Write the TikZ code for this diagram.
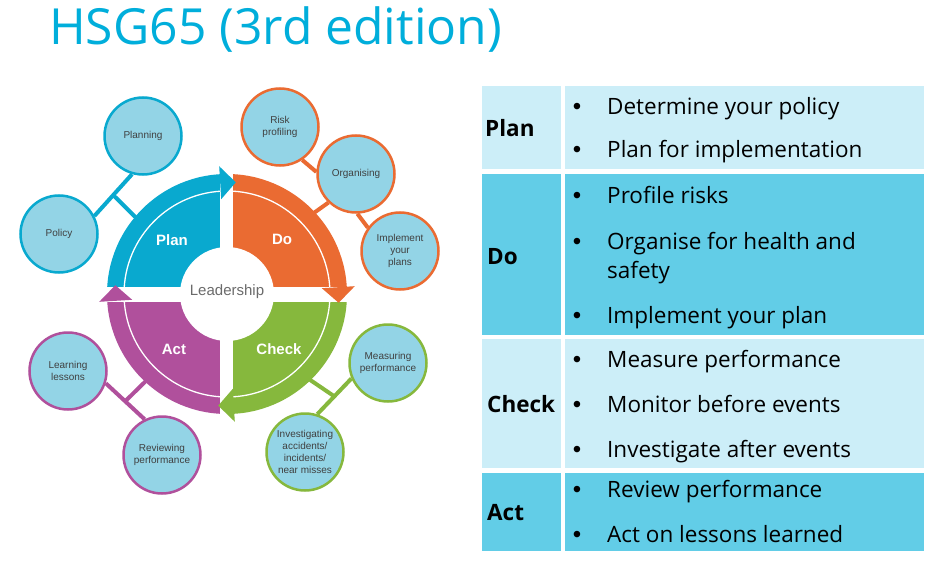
\documentclass[tikz,border=0pt]{standalone}
\usepackage{fontspec}
\setmainfont{Open Sans}
\newfontfamily\lib{Liberation Sans}
\usetikzlibrary{calc}
\definecolor{plancol}{HTML}{09A9CF}
\definecolor{docol}{HTML}{EA6B32}
\definecolor{checkcol}{HTML}{86B83D}
\definecolor{actcol}{HTML}{B0509C}
\definecolor{satfill}{HTML}{93D4E6}
\definecolor{labgrey}{HTML}{404040}
\definecolor{leadgrey}{HTML}{6B6B6B}
\definecolor{tablight}{HTML}{CCEEF8}
\definecolor{tabdark}{HTML}{62CDE7}
\definecolor{titlecol}{HTML}{00AEDB}
\begin{document}
\begin{tikzpicture}[x=1pt,y=1pt,
  sat/.style={circle, draw=#1, line width=2.5, fill=satfill, minimum size=77, inner sep=0,
    align=center, text=labgrey, font=\lib\fontsize{10}{12}\selectfont},
  conn/.style={line width=4, draw=#1},
  wheellab/.style={text=white, inner sep=0, font=\lib\bfseries\fontsize{15}{18}\selectfont},
  tabtext/.style={anchor=base west, inner sep=0, font=\fontsize{22.5}{27}\selectfont},
  tabbul/.style={anchor=base, inner sep=0, font=\lib\fontsize{24}{27}\selectfont},
  tabhead/.style={anchor=base west, inner sep=0, font=\bfseries\fontsize{22.5}{27}\selectfont}]
\useasboundingbox (0,0) rectangle (941,-585);
\fill[white] (0,0) rectangle (941,-585);

% title
\node[anchor=base west, inner sep=0, text=titlecol, font=\fontsize{49.8}{58}\selectfont] (title) at (49,-45) {HSG65 (3rd edition)};

% ---------------- wheel ----------------
\coordinate (C) at (227,-294);
\fill[plancol] (C) -- ($(C)+(90:120)$) arc[start angle=90, end angle=180, radius=120] -- cycle;
\fill[docol] (C) -- ($(C)+(0:120)$) arc[start angle=0, end angle=90, radius=120] -- cycle;
\fill[checkcol] (C) -- ($(C)+(-90:120)$) arc[start angle=-90, end angle=0, radius=120] -- cycle;
\fill[actcol] (C) -- ($(C)+(180:120)$) arc[start angle=180, end angle=270, radius=120] -- cycle;
\draw[white, line width=1.3] (C) circle[radius=103];
\fill[white] ($(C)+(-7,-135)$) rectangle ($(C)+(6,135)$);
\fill[white] ($(C)+(-135,-8)$) rectangle ($(C)+(135,7)$);
\fill[white] (C) circle[radius=47];
% arrowheads
\fill[plancol] ($(C)+(93.5:95)$) -- ($(C)+(93.5:128)$) -- ($(C)+(85.5:112)$) -- cycle;
\fill[docol] ($(C)+(3.5:95)$) -- ($(C)+(3.5:128)$) -- ($(C)+(-4.5:112)$) -- cycle;
\fill[checkcol] ($(C)+(-86.5:95)$) -- ($(C)+(-86.5:128)$) -- ($(C)+(-94.5:112)$) -- cycle;
\fill[actcol] ($(C)+(183.5:95)$) -- ($(C)+(183.5:128)$) -- ($(C)+(175.5:112)$) -- cycle;

\node[wheellab] (plan) at (172,-240) {Plan};
\node[wheellab] (do) at (282,-239) {Do};
\node[wheellab] (check) at (279,-349) {Check};
\node[wheellab] (act) at (174,-349) {Act};
\node[inner sep=0, text=leadgrey, font=\lib\fontsize{15}{18}\selectfont] (lead) at (227,-292) {Leadership};

% wheel contact points
\coordinate (wPlan) at ($(C)+(140:119)$);
\coordinate (wDo) at ($(C)+(43:119)$);
\coordinate (wCheck) at ($(C)+(-46:119)$);
\coordinate (wAct) at ($(C)+(227:119)$);

% ---------------- satellites ----------------
\node[sat=plancol] (planning) at (143,-136) {Planning};
\node[sat=plancol] (policy) at (59,-234) {Policy};
\node[sat=docol] (risk) at (280,-127) {Risk\\profiling};
\node[sat=docol] (organising) at (356,-174) {Organising};
\node[sat=docol] (implement) at (400,-251) {Implement\\your\\plans};
\node[sat=checkcol] (measuring) at (388,-363) {Measuring\\performance};
\node[sat=checkcol] (investigating) at (305,-452) {Investigating\\accidents/\\incidents/\\near misses};
\node[sat=actcol] (learning) at (68,-371) {Learning\\lessons};
\node[sat=actcol] (reviewing) at (162,-455) {Reviewing\\performance};

% connectors
\draw[conn=plancol] (planning.254) -- (policy.27);
\draw[conn=plancol] ($(planning.254)!0.5!(policy.27)$) -- (wPlan);
\draw[conn=docol] (risk.-56) -- (organising.177);
\draw[conn=docol] (organising.-88) -- (implement.144);
\draw[conn=docol] (wDo) -- (organising.226);
\draw[conn=checkcol] (measuring.203) -- (investigating.72);
\draw[conn=checkcol] ($(measuring.203)!0.5!(investigating.72)$) -- (wCheck);
\draw[conn=actcol] (learning.-18) -- (reviewing.116);
\draw[conn=actcol] ($(learning.-18)!0.5!(reviewing.116)$) -- (wAct);

% ---------------- table ----------------
\fill[tablight] (482,-86) rectangle (561,-169);
\fill[tablight] (565,-86) rectangle (924,-169);
\fill[tabdark] (482,-174) rectangle (561,-335);
\fill[tabdark] (565,-174) rectangle (924,-335);
\fill[tablight] (482,-339) rectangle (561,-468);
\fill[tablight] (565,-339) rectangle (924,-468);
\fill[tabdark] (482,-473) rectangle (561,-551);
\fill[tabdark] (565,-473) rectangle (924,-551);

\node[tabhead] (hplan) at (485,-137) {Plan};
\node[tabhead] (hdo) at (487,-264) {Do};
\node[tabhead] (hcheck) at (487,-412) {Check};
\node[tabhead] (hact) at (487,-520) {Act};

\node[tabbul] (b1) at (577,-115) {•};
\node[tabtext] (t1) at (607,-115) {Determine your policy};
\node[tabbul] (b2) at (577,-158) {•};
\node[tabtext] (t2) at (607,-158) {Plan for implementation};
\node[tabbul] (b3) at (577,-204) {•};
\node[tabtext] (t3) at (607,-204) {Profile risks};
\node[tabbul] (b4) at (577,-249) {•};
\node[tabtext] (t4) at (607,-249) {Organise for health and};
\node[tabtext] (t4b) at (607,-278) {safety};
\node[tabbul] (b5) at (577,-323) {•};
\node[tabtext] (t5) at (607,-323) {Implement your plan};
\node[tabbul] (b6) at (577,-367) {•};
\node[tabtext] (t6) at (607,-367) {Measure performance};
\node[tabbul] (b7) at (577,-412) {•};
\node[tabtext] (t7) at (607,-412) {Monitor before events};
\node[tabbul] (b8) at (577,-457) {•};
\node[tabtext] (t8) at (607,-457) {Investigate after events};
\node[tabbul] (b9) at (577,-497) {•};
\node[tabtext] (t9) at (607,-497) {Review performance};
\node[tabbul] (b10) at (577,-542) {•};
\node[tabtext] (t10) at (607,-542) {Act on lessons learned};
\end{tikzpicture}
\end{document}
